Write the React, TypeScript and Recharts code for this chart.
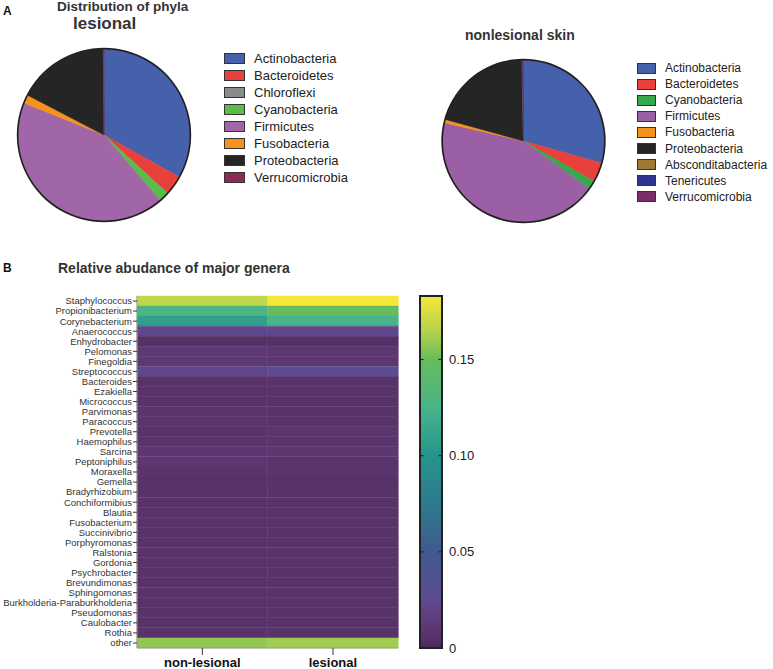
import { PieChart, Pie, Cell, Legend, BarChart, Bar, XAxis, YAxis } from 'recharts'

// phyla, lesional skin
const lesPhyla = ['Actinobacteria', 'Bacteroidetes', 'Chloroflexi', 'Cyanobacteria', 'Firmicutes', 'Fusobacteria', 'Proteobacteria', 'Verrucomicrobia']
const lesShare = [33.1, 3.7, 0.05, 1.9, 42.3, 1.6, 17.2, 0.15]
const lesColors = ['#4661AB', '#E8403A', '#8A8A8A', '#5DBB4A', '#A066A8', '#F5921E', '#252526', '#8E2A55']

// phyla, nonlesional skin
const nonPhyla = ['Actinobacteria', 'Bacteroidetes', 'Cyanobacteria', 'Firmicutes', 'Fusobacteria', 'Proteobacteria', 'Absconditabacteria', 'Tenericutes', 'Verrucomicrobia']
const nonShare = [29.4, 3.9, 1.7, 43.6, 0.7, 20.4, 0.1, 0.05, 0.15]
const nonColors = ['#4661AB', '#E8403A', '#35A94B', '#9B5FA5', '#F5921E', '#252526', '#A07A35', '#2E3590', '#7A2C6B']

// genera heatmap
const genera = ['Staphylococcus', 'Propionibacterium', 'Corynebacterium', 'Anaerococcus', 'Enhydrobacter', 'Pelomonas', 'Finegoldia', 'Streptococcus', 'Bacteroides', 'Ezakiella', 'Micrococcus', 'Parvimonas', 'Paracoccus', 'Prevotella', 'Haemophilus', 'Sarcina', 'Peptoniphilus', 'Moraxella', 'Gemella', 'Bradyrhizobium', 'Conchiformibius', 'Blautia', 'Fusobacterium', 'Succinivibrio', 'Porphyromonas', 'Ralstonia', 'Gordonia', 'Psychrobacter', 'Brevundimonas', 'Sphingomonas', 'Burkholderia-Paraburkholderia', 'Pseudomonas', 'Caulobacter', 'Rothia', 'other']
const nonLesional = [0.168, 0.128, 0.108, 0.022, 0.005, 0.012, 0.012, 0.022, 0.007, 0.007, 0.007, 0.009, 0.008, 0.007, 0.008, 0.011, 0.011, 0.008, 0.007, 0.007, 0.007, 0.007, 0.007, 0.007, 0.007, 0.007, 0.007, 0.007, 0.007, 0.007, 0.007, 0.007, 0.007, 0.007, 0.158]
const lesional = [0.183, 0.148, 0.125, 0.022, 0.005, 0.011, 0.010, 0.028, 0.007, 0.007, 0.007, 0.007, 0.007, 0.009, 0.008, 0.010, 0.008, 0.008, 0.007, 0.007, 0.007, 0.007, 0.007, 0.007, 0.007, 0.007, 0.007, 0.007, 0.007, 0.007, 0.007, 0.007, 0.007, 0.007, 0.161]
const groups = ['non-lesional', 'lesional']
const scaleTicks = [0, 0.05, 0.1, 0.15]
const scaleMax = 0.183

const font = '"Liberation Sans", Arial, sans-serif'

const stops: [number, string][] = [
   [0, '#4A2B5C'],
   [0.01, '#5E3670'],
   [0.025, '#604A92'],
   [0.05, '#3E5A8E'],
   [0.075, '#2F7A8E'],
   [0.1, '#25958B'],
   [0.125, '#48B48A'],
   [0.15, '#68BC5A'],
   [0.165, '#B5D24E'],
   [0.183, '#F6E83A'],
]

const hex = (c: string) => [1, 3, 5].map(i => parseInt(c.slice(i, i + 2), 16))

const heatColor = (v: number) => {
   if (v <= stops[0][0]) return stops[0][1]
   for (let i = 1; i < stops.length; i++) {
      if (v <= stops[i][0]) {
         const [v0, c0] = stops[i - 1]
         const [v1, c1] = stops[i]
         const t = (v - v0) / (v1 - v0)
         const a = hex(c0), b = hex(c1)
         return `rgb(${a.map((x, k) => Math.round(x + (b[k] - x) * t)).join(',')})`
      }
   }
   return stops[stops.length - 1][1]
}

// keeps the data order and drops the rim entry
const LegendList = ({ payload, names, box, rowH, fontSize }: any) => {
   const items = names.map((n: string) => (payload || []).find((p: any) => p.value === n)).filter(Boolean)
   return (
      <div style={{ fontFamily: font, fontSize, color: '#222' }}>
         {items.map((p: any) => (
            <div key={p.value} style={{ display: 'flex', alignItems: 'center', height: rowH }}>
               <span style={{ width: box[0], height: box[1], boxSizing: 'border-box', border: '1.5px solid #333', background: p.color, marginRight: 9 }} />
               <span>{p.value}</span>
            </div>
         ))}
      </div>
   )
}

const PhylaPie = ({ names, values, colors, cx, cy, r, legendPos, box, rowH, fontSize }: any) => {
   const data = names.map((n: string, i: number) => ({ name: n, value: values[i] }))
   return (
      <PieChart width={393} height={240} margin={{ top: 0, right: 0, bottom: 0, left: 0 }}>
         <Pie data={data} dataKey='value' nameKey='name' cx={cx} cy={cy} outerRadius={r}
            startAngle={90} endAngle={-270} isAnimationActive={false}>
            {data.map((d: any, i: number) => <Cell key={d.name} fill={colors[i]} stroke={colors[i]} strokeWidth={0.6} />)}
         </Pie>
         <Pie data={[{ name: 'rim', value: 1 }]} dataKey='value' cx={cx} cy={cy} innerRadius={r - 0.5} outerRadius={r + 1.2}
            startAngle={90} endAngle={-270} fill='#231F20' stroke='none' legendType='none' isAnimationActive={false} />
         <Legend layout='vertical' align='right' verticalAlign='top'
            wrapperStyle={{ left: legendPos[0], top: legendPos[1], width: 'auto' }}
            content={(props: any) => <LegendList payload={props.payload} names={names} box={box} rowH={rowH} fontSize={fontSize} />} />
      </PieChart>
   )
}

const ScaleTick = ({ x, y, payload }: any) => {
   const ax = x - 7
   return (
      <g>
         <line x1={ax - 22} x2={ax - 18.5} y1={y} y2={y} stroke='#222' strokeWidth={1.2} />
         <line x1={ax - 3.5} x2={ax} y1={y} y2={y} stroke='#222' strokeWidth={1.2} />
         <text x={x} y={y} dy={4.5} fontSize={13} fontFamily={font} fill='#222'>
            {payload.value === 0 ? '0' : payload.value.toFixed(2)}
         </text>
      </g>
   )
}

const abs = (left: number, top: number): React.CSSProperties => ({ position: 'absolute', left, top, lineHeight: 1 })

export default function App() {
   const rows = genera.map((g, i) => ({ genus: g, nl: 1, l: 1, nlVal: nonLesional[i], lVal: lesional[i] }))
   const gradStops = stops.slice().reverse()
   return (
      <div style={{ position: 'absolute', left: 0, top: 0, width: 773, height: 669, background: '#fff', fontFamily: font, overflow: 'hidden' }}>
         <div style={{ ...abs(3, 5), fontSize: 12, fontWeight: 'bold', color: '#111' }}>A</div>
         <div style={{ ...abs(57, 0), fontSize: 13.5, fontWeight: 'bold', color: '#333' }}>Distribution of phyla</div>
         <div style={{ ...abs(73, 15), fontSize: 17, fontWeight: 'bold', color: '#333' }}>lesional</div>
         <div style={{ ...abs(465, 28), fontSize: 14, fontWeight: 'bold', color: '#333' }}>nonlesional skin</div>

         <div style={abs(0, 0)}>
            <PhylaPie names={lesPhyla} values={lesShare} colors={lesColors} cx={104} cy={135} r={86}
               legendPos={[224, 49.5]} box={[21, 11]} rowH={17.1} fontSize={13} />
         </div>
         <div style={abs(380, 0)}>
            <PhylaPie names={nonPhyla} values={nonShare} colors={nonColors} cx={143.5} cy={141} r={81}
               legendPos={[257, 60]} box={[19, 11]} rowH={16.1} fontSize={12} />
         </div>

         <div style={{ ...abs(3, 262), fontSize: 12, fontWeight: 'bold', color: '#111' }}>B</div>
         <div style={{ ...abs(58, 261), fontSize: 14, fontWeight: 'bold', color: '#333' }}>Relative abudance of major genera</div>

         <div style={abs(0, 280)}>
            <BarChart width={420} height={389} data={rows} layout='vertical' barCategoryGap={0} barGap={0}
               margin={{ top: 16, right: 21.7, bottom: 0, left: 0 }}>
               <XAxis type='number' domain={[0, 2]} ticks={[0.5, 1.5]} height={21}
                  tickFormatter={(v: number) => groups[Math.floor(v)]}
                  tick={{ fontSize: 13, fontWeight: 'bold', fill: '#111', fontFamily: font }}
                  tickSize={7} tickMargin={3} axisLine={{ stroke: '#9a9a8a' }} tickLine={{ stroke: '#333' }} />
               <YAxis type='category' dataKey='genus' width={137} interval={0}
                  tick={{ fontSize: 9.5, fill: '#333', fontFamily: font }}
                  tickSize={4} tickMargin={1} axisLine={{ stroke: '#9a9a8a' }} tickLine={{ stroke: '#333' }} />
               <Bar dataKey='nl' stackId='cells' isAnimationActive={false}>
                  {rows.map(r => <Cell key={r.genus} fill={heatColor(r.nlVal)} stroke={heatColor(r.nlVal)} strokeWidth={0.5} />)}
               </Bar>
               <Bar dataKey='l' stackId='cells' isAnimationActive={false}>
                  {rows.map(r => <Cell key={r.genus} fill={heatColor(r.lVal)} stroke={heatColor(r.lVal)} strokeWidth={0.5} />)}
               </Bar>
            </BarChart>
         </div>

         <div style={abs(410, 286)}>
            <BarChart width={92} height={372} data={[{ name: 'scale', top: scaleMax }]} barCategoryGap={0}
               margin={{ top: 10, right: 0, bottom: 10, left: 10 }}>
               <defs>
                  <linearGradient id='viridisGrad' x1='0' y1='0' x2='0' y2='1'>
                     {gradStops.map(([v, c]) => <stop key={v} offset={1 - v / scaleMax} stopColor={c} />)}
                  </linearGradient>
               </defs>
               <XAxis dataKey='name' hide />
               <YAxis orientation='right' type='number' domain={[0, scaleMax]} ticks={scaleTicks} width={60}
                  axisLine={false} tickLine={false} tickSize={0} tickMargin={7} tick={<ScaleTick />} />
               <Bar dataKey='top' fill='url(#viridisGrad)' stroke='#222' strokeWidth={2} isAnimationActive={false} />
            </BarChart>
         </div>
      </div>
   )
}
